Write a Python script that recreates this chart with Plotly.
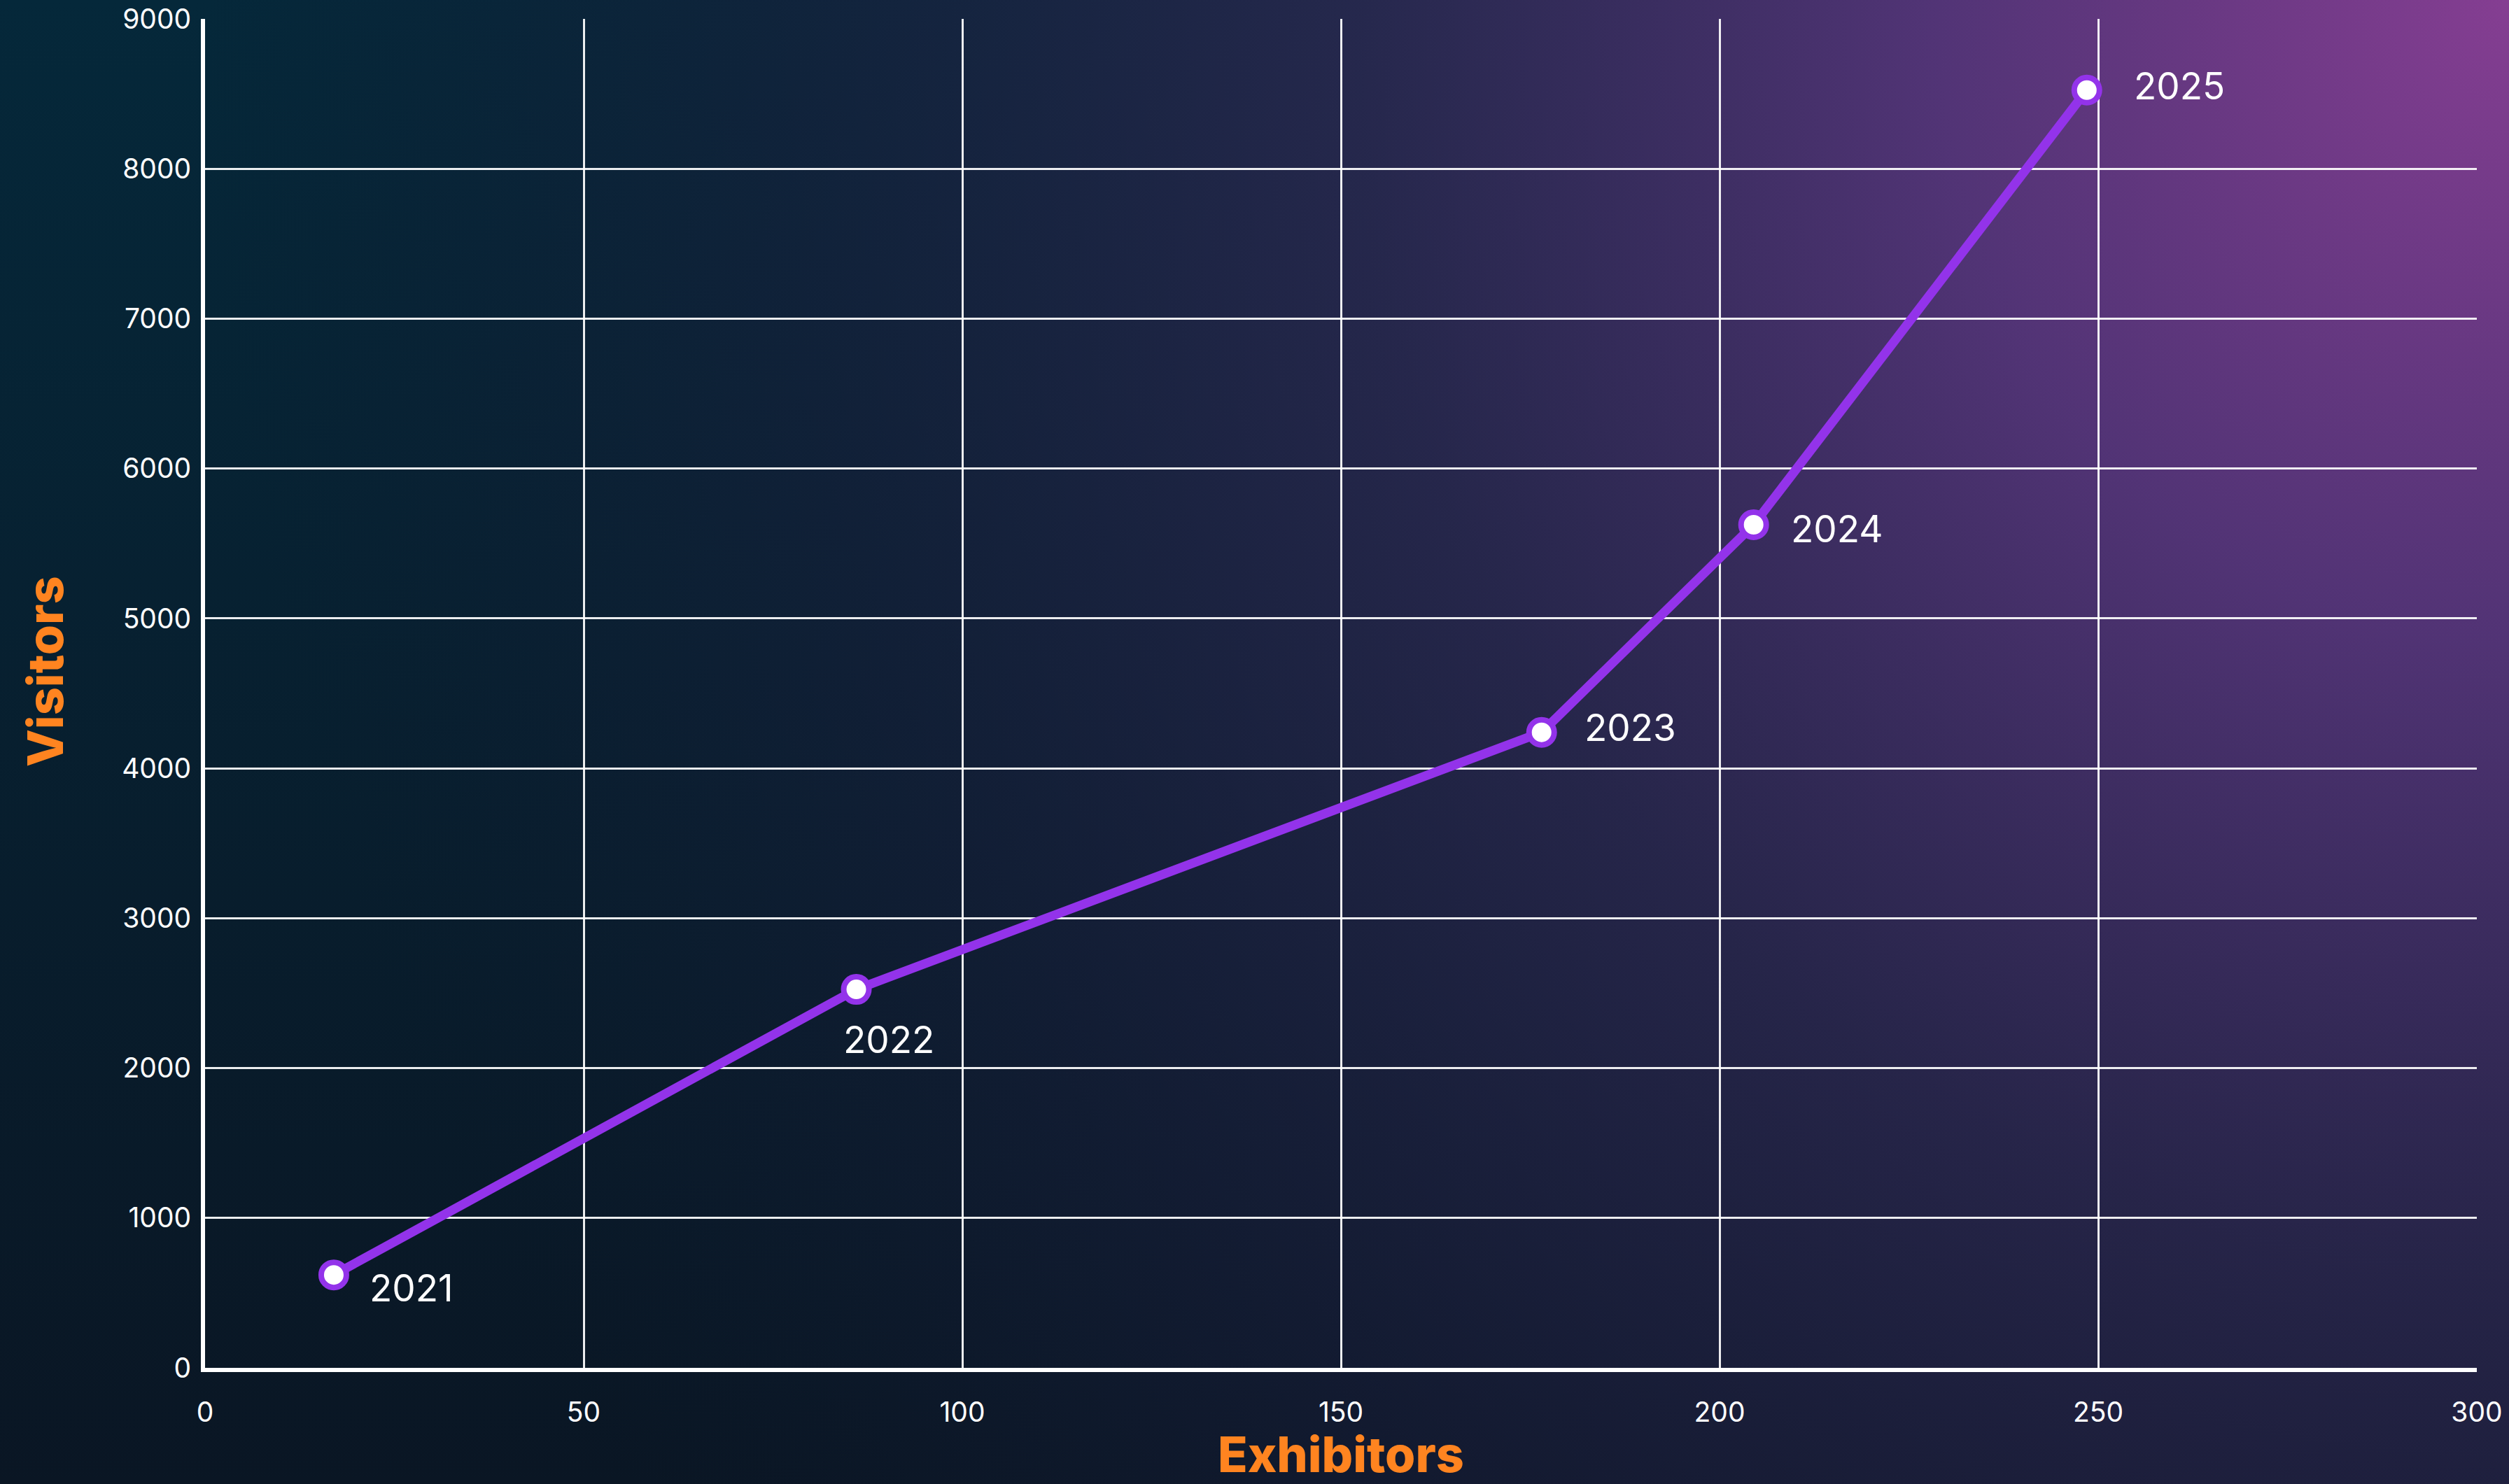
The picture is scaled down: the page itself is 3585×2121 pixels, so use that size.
import base64
import plotly.graph_objects as go

# ---- data ----
years = ["2021", "2022", "2023", "2024", "2025"]
exhibitors = [17, 86, 176.5, 204.5, 248.5]
visitors = [620, 2525, 4240, 5625, 8525]

x_ticks = [0, 50, 100, 150, 200, 250, 300]
y_ticks = [0, 1000, 2000, 3000, 4000, 5000, 6000, 7000, 8000, 9000]

# ---- styles ----
W, H = 3585, 2121
ML, MR, MT, MB = 293, 46, 27, 166
PW, PH = W - ML - MR, H - MT - MB
LINE_COLOR = "#9333ea"
ORANGE = "#ff8420"
label_style = [  # (xanchor, xshift, yshift)
    ("left", 49, -19),
    ("center", 46, -72),
    ("left", 59, 7),
    ("left", 51, -6),
    ("left", 65, 6),
]

svg = f"""<svg xmlns='http://www.w3.org/2000/svg' width='{W}' height='{H}' viewBox='0 0 {W} {H}' preserveAspectRatio='none'>
<defs>
<linearGradient id='base' x1='0' y1='0' x2='0' y2='1'>
<stop offset='0' stop-color='#05283a'/>
<stop offset='1' stop-color='#0a1624'/>
</linearGradient>
<radialGradient id='purple' gradientUnits='userSpaceOnUse' cx='{W}' cy='0' r='3300'
 gradientTransform='translate({W} 0) scale(1 1.1) translate(-{W} 0)'>
<stop offset='0' stop-color='#853e92' stop-opacity='1'/>
<stop offset='0.25' stop-color='#58357b' stop-opacity='0.92'/>
<stop offset='0.5' stop-color='#302853' stop-opacity='0.75'/>
<stop offset='0.75' stop-color='#1c1e3d' stop-opacity='0.45'/>
<stop offset='1' stop-color='#101a30' stop-opacity='0'/>
</radialGradient>
</defs>
<rect x='0' y='0' width='{W}' height='{H}' fill='url(#base)'/>
<rect x='0' y='0' width='{W}' height='{H}' fill='url(#purple)'/>
</svg>"""
bg_uri = "data:image/svg+xml;base64," + base64.b64encode(svg.encode()).decode()

fig = go.Figure()
fig.add_trace(go.Scatter(
    x=exhibitors, y=visitors, mode="lines+markers",
    line=dict(color=LINE_COLOR, width=13),
    marker=dict(size=36, color="white", line=dict(color=LINE_COLOR, width=8)),
    cliponaxis=False, showlegend=False, hoverinfo="skip",
))

for (xa, xs, ys), yr, xv, yv in zip(label_style, years, exhibitors, visitors):
    fig.add_annotation(x=xv, y=yv, text=yr, showarrow=False, xanchor=xa, yanchor="middle",
                       xshift=xs, yshift=ys, font=dict(family="Inter", size=53, color="white"))

# y-axis title (placed as a rotated annotation in the left margin)
fig.add_annotation(text="Visitors", xref="paper", yref="paper",
                   x=(64 - ML) / PW, y=1 - (960 - MT) / PH, textangle=-90,
                   xanchor="center", yanchor="middle", showarrow=False,
                   font=dict(family="Inter", size=70, color=ORANGE, weight=800))

axis_common = dict(
    showline=True, linecolor="white", linewidth=6, mirror=False, automargin=False,
    showgrid=True, gridcolor="rgba(255,255,255,0.92)", gridwidth=3,
    zeroline=False, ticks="", tickfont=dict(family="Inter", size=39, color="white"),
)

fig.update_layout(
    width=W, height=H, autosize=False,
    margin=dict(l=ML, r=MR, t=MT, b=MB, pad=0),
    paper_bgcolor="#0b1a2a", plot_bgcolor="rgba(0,0,0,0)",
    xaxis=dict(range=[0, 300], tickvals=x_ticks, ticklabelstandoff=24,
               title=dict(text="Exhibitors", standoff=49,
                          font=dict(family="Inter", size=70, color=ORANGE, weight=800)),
               **axis_common),
    yaxis=dict(range=[0, 9000], tickvals=y_ticks, ticklabelstandoff=6,
               **axis_common),
    images=[dict(source=bg_uri, xref="paper", yref="paper",
                 x=-ML / PW, y=1 + MT / PH, sizex=W / PW, sizey=H / PH,
                 xanchor="left", yanchor="top", sizing="stretch", layer="below")],
)

fig.write_html(
    "out.html",
    config={"displayModeBar": False},
    post_script="document.body.style.margin='0';document.body.style.overflow='hidden';"
                "document.body.style.background='#0b1a2a';",
)
